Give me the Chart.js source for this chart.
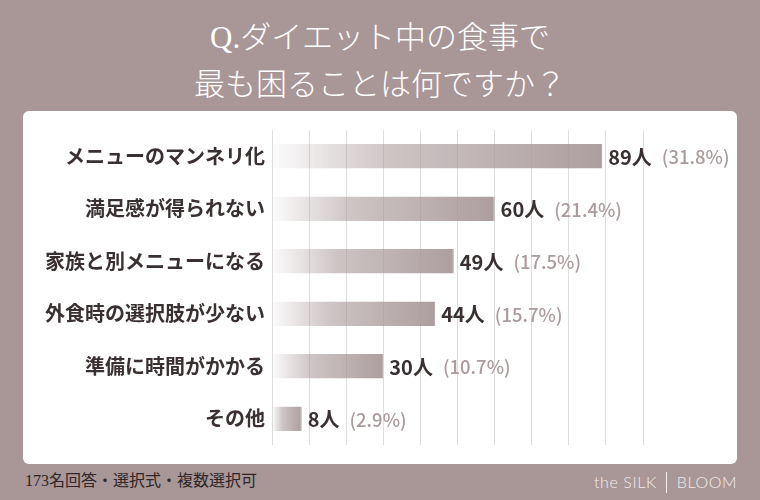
<!DOCTYPE html>
<html lang="ja">
<head>
<meta charset="utf-8">
<script src="https://cdn.jsdelivr.net/npm/chart.js@4/dist/chart.umd.min.js"></script>
<style>
  html, body { margin: 0; padding: 0; }
  body { width: 760px; height: 500px; background: #a99697; position: relative; overflow: hidden; font-family: "Noto Sans CJK JP", sans-serif; }
  .title { position: absolute; left: 0; width: 760px; text-align: center; color: #ffffff; font-family: "Liberation Serif", "Noto Sans CJK JP", serif; font-size: 31px; font-weight: 300; line-height: 1; }
  #t1 { top: 22px; }
  #t2 { top: 69px; }
  #panel { position: absolute; left: 23px; top: 111px; width: 714px; height: 353px; background: #ffffff; border-radius: 6px; }
  #chart { position: absolute; left: 23px; top: 111px; }
  #note { position: absolute; left: 25px; top: 467px; font-family: "Liberation Serif", "Noto Sans CJK JP", serif; font-size: 16px; color: #2e2626; }
  #brand { position: absolute; left: 594px; top: 472px; font-family: "Lato", "Open Sans", sans-serif; font-weight: 300; font-size: 16px; color: #f3ecec; letter-spacing: 0.6px; }
  #brand .sep { display: inline-block; width: 1px; height: 21px; background: #f3ecec; vertical-align: -5px; margin: 0 10px 0 9px; }
</style>
</head>
<body>
<div class="title" id="t1">Q.ダイエット中の食事で</div>
<div class="title" id="t2">最も困ることは何ですか？</div>
<div id="panel"></div>
<canvas id="chart" width="714" height="353"></canvas>
<div id="note">173名回答・選択式・複数選択可</div>
<div id="brand">the SILK<span class="sep"></span>BLOOM</div>
<script>
const categories = ["メニューのマンネリ化", "満足感が得られない", "家族と別メニューになる", "外食時の選択肢が少ない", "準備に時間がかかる", "その他"];
const counts = [89, 60, 49, 44, 30, 8];
const percents = ["31.8", "21.4", "17.5", "15.7", "10.7", "2.9"];
const axisMax = 100;
const axisStep = 10;

function barGradient(context) {
  const chart = context.chart;
  const xs = chart.scales.x;
  if (!chart.chartArea || !xs || context.dataIndex === undefined) return "rgba(166,149,150,0.9)";
  const v = context.dataset.data[context.dataIndex];
  const x0 = xs.getPixelForValue(0);
  const x1 = xs.getPixelForValue(v);
  const g = chart.ctx.createLinearGradient(x0, 0, x1, 0);
  g.addColorStop(0, "rgba(166,149,150,0.03)");
  g.addColorStop(0.35, "rgba(166,149,150,0.55)");
  g.addColorStop(1, "rgba(166,149,150,0.92)");
  return g;
}

const valueLabels = {
  id: "valueLabels",
  afterDatasetsDraw(chart) {
    const ctx = chart.ctx;
    const meta = chart.getDatasetMeta(0);
    ctx.save();
    ctx.textBaseline = "middle";
    ctx.textAlign = "left";
    meta.data.forEach((bar, i) => {
      let x = bar.x + 6;
      const y = bar.y + 1;
      ctx.font = "bold 20px 'Noto Sans CJK JP', sans-serif";
      ctx.fillStyle = "#3a3031";
      const t1 = counts[i] + "人";
      ctx.fillText(t1, x, y);
      x += ctx.measureText(t1).width + 10;
      ctx.font = "500 18.5px 'Noto Sans CJK JP', sans-serif";
      ctx.fillStyle = "#ab9b9c";
      ctx.fillText("(" + percents[i] + "%)", x, y);
    });
    ctx.restore();
  }
};

new Chart(document.getElementById("chart"), {
  type: "bar",
  data: {
    labels: categories,
    datasets: [{
      data: counts,
      backgroundColor: barGradient,
      borderColor: "rgba(150,132,134,0.8)",
      borderWidth: { top: 0, bottom: 0, left: 0, right: 1 },
      borderSkipped: false,
      barPercentage: 0.94,
      categoryPercentage: 0.5
    }]
  },
  options: {
    indexAxis: "y",
    responsive: false,
    devicePixelRatio: 1,
    animation: false,
    layout: { padding: { left: 0, right: 94, top: 12, bottom: 11 } },
    plugins: { legend: { display: false }, tooltip: { enabled: false } },
    scales: {
      x: {
        min: 0, max: axisMax,
        ticks: { display: false, stepSize: axisStep },
        grid: { color: "#dedede", drawTicks: false, lineWidth: 1 },
        border: { display: false }
      },
      y: {
        ticks: { color: "#3a3031", font: { family: "'Noto Sans CJK JP', sans-serif", size: 20, weight: "bold" }, padding: 7 },
        grid: { display: false, drawTicks: false },
        border: { display: false },
        afterFit(scale) { scale.width = 249; }
      }
    }
  },
  plugins: [valueLabels]
});
</script>
</body>
</html>
